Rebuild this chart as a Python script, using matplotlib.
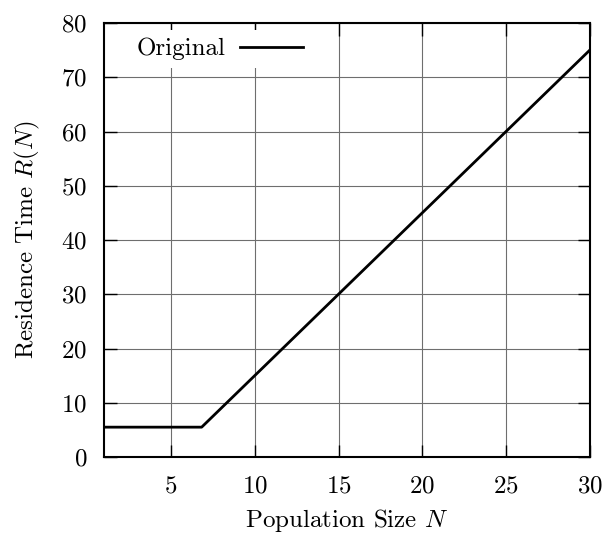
import matplotlib
matplotlib.use("Agg")
import matplotlib.pyplot as plt

# Residence time curve: flat until the knee, then linear growth
population = [1, 6.83, 30]
residence = [5.5, 5.5, 75]
x_ticks = [5, 10, 15, 20, 25, 30]
y_ticks = [0, 10, 20, 30, 40, 50, 60, 70, 80]

plt.rcParams["font.family"] = ["cmr10"]
plt.rcParams["mathtext.fontset"] = "cm"
plt.rcParams["axes.formatter.use_mathtext"] = True

fig = plt.figure(figsize=(6.03, 5.36), dpi=100)
ax = fig.add_axes([0.1725, 0.1474, 0.978 - 0.1725, 0.957 - 0.1474])

ax.plot(population, residence, color="black", lw=2.0, label="Original", zorder=3)

ax.set_xlim(1, 30)
ax.set_ylim(0, 80)
ax.set_xticks(x_ticks)
ax.set_yticks(y_ticks)
ax.tick_params(direction="in", length=9, width=1.0, top=True, right=True,
               labelsize=18, color="black")
ax.tick_params(axis="x", pad=13)
ax.tick_params(axis="y", pad=12)
ax.grid(True, color="#6e6e6e", lw=0.8)
ax.set_axisbelow(True)
for s in ax.spines.values():
    s.set_linewidth(1.5)
    s.set_zorder(4)

ax.set_xlabel("Population Size $N$", fontsize=18, labelpad=7)
ax.set_ylabel("Residence Time $R(N)$", fontsize=18, labelpad=14)

leg = ax.legend(loc="upper left", bbox_to_anchor=(0.025, 1.012), markerfirst=False,
                fontsize=18, frameon=True, handlelength=2.5, borderaxespad=0.5,
                borderpad=0.3, handletextpad=0.6, fancybox=False)
leg.get_frame().set_edgecolor("none")
leg.get_frame().set_facecolor("white")
leg.get_frame().set_alpha(1.0)

fig.savefig("out.png", dpi=100)
